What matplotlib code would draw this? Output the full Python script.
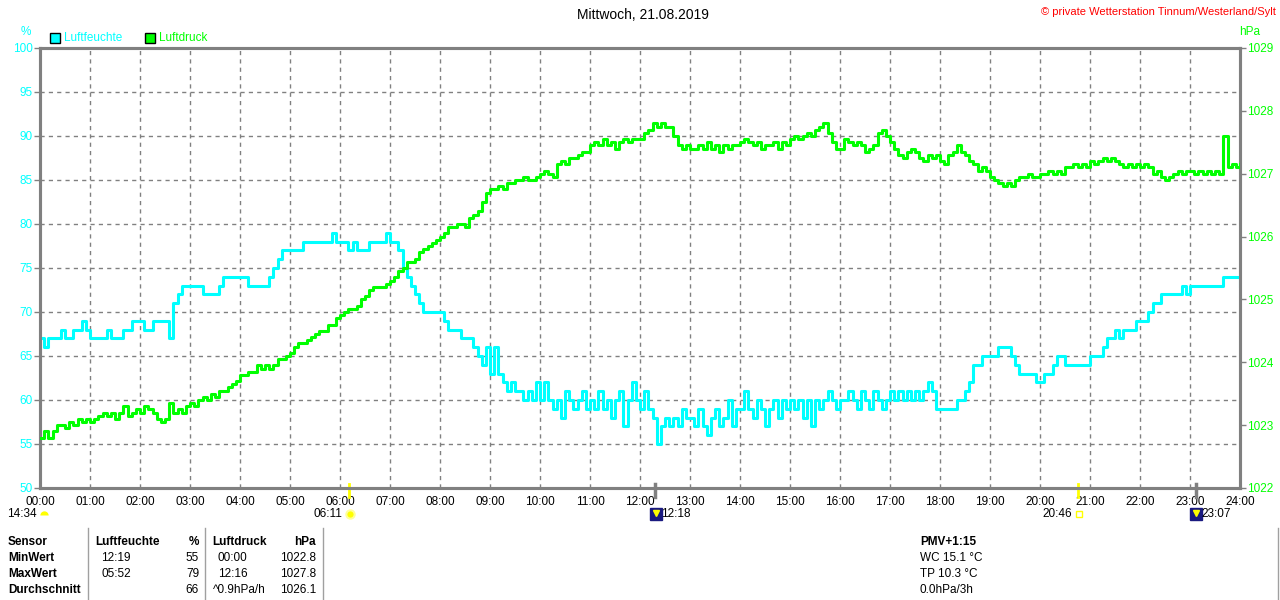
import numpy as np
import matplotlib
matplotlib.use('Agg')
import matplotlib.pyplot as plt
from matplotlib.lines import Line2D
from matplotlib.transforms import blended_transform_factory

plt.rcParams['font.family'] = ['Liberation Sans', 'DejaVu Sans']

# Zeitachse: alle 5 Minuten von 00:00 bis 24:00
minuten = np.arange(0, 24 * 60 + 1, 5)

# Luftfeuchte in %, je Zeile eine Stunde (12 Werte), am Ende 24:00
luftfeuchte = [
    67, 66, 67, 67, 67, 68, 67, 67, 68, 68, 69, 68,   # 00
    67, 67, 67, 67, 68, 67, 67, 67, 68, 68, 69, 69,   # 01
    69, 68, 68, 69, 69, 69, 69, 67, 71, 72, 73, 73,   # 02
    73, 73, 73, 72, 72, 72, 72, 73, 74, 74, 74, 74,   # 03
    74, 74, 73, 73, 73, 73, 73, 74, 75, 76, 77, 77,   # 04
    77, 77, 77, 78, 78, 78, 78, 78, 78, 78, 79, 78,   # 05
    78, 78, 77, 78, 77, 77, 77, 78, 78, 78, 78, 79,   # 06
    78, 78, 77, 75, 74, 73, 72, 71, 70, 70, 70, 70,   # 07
    70, 69, 68, 68, 68, 67, 67, 67, 66, 65, 64, 66,   # 08
    63, 66, 63, 62, 61, 62, 61, 61, 60, 61, 60, 62,   # 09
    60, 62, 60, 59, 60, 58, 61, 60, 59, 60, 61, 59,   # 10
    60, 59, 61, 59, 60, 58, 60, 61, 57, 60, 62, 60,   # 11
    59, 61, 59, 58, 55, 57, 58, 57, 58, 57, 59, 58,   # 12
    58, 57, 59, 57, 56, 58, 59, 57, 58, 60, 57, 59,   # 13
    59, 61, 59, 58, 60, 59, 57, 59, 60, 58, 60, 59,   # 14
    60, 59, 60, 58, 60, 57, 60, 59, 60, 61, 60, 59,   # 15
    60, 60, 61, 60, 59, 61, 60, 59, 61, 60, 59, 60,   # 16
    61, 60, 61, 60, 61, 60, 61, 60, 61, 62, 61, 59,   # 17
    59, 59, 59, 59, 60, 60, 61, 62, 64, 64, 65, 65,   # 18
    65, 65, 66, 66, 66, 65, 64, 63, 63, 63, 63, 62,   # 19
    62, 63, 63, 64, 65, 65, 64, 64, 64, 64, 64, 64,   # 20
    65, 65, 65, 66, 67, 67, 68, 67, 68, 68, 68, 69,   # 21
    69, 69, 70, 71, 71, 72, 72, 72, 72, 72, 73, 72,   # 22
    73, 73, 73, 73, 73, 73, 73, 73, 74, 74, 74, 74,   # 23
    73,
]

# Luftdruck in hPa
luftdruck = [
    1022.8, 1022.9, 1022.8, 1022.9, 1023.0, 1023.0, 1022.95, 1023.05, 1023.0, 1023.1, 1023.05, 1023.1,
    1023.05, 1023.1, 1023.15, 1023.2, 1023.15, 1023.2, 1023.1, 1023.2, 1023.3, 1023.15, 1023.2, 1023.25,
    1023.2, 1023.3, 1023.25, 1023.2, 1023.1, 1023.05, 1023.1, 1023.35, 1023.2, 1023.25, 1023.2, 1023.3,
    1023.35, 1023.3, 1023.4, 1023.45, 1023.4, 1023.5, 1023.45, 1023.55, 1023.55, 1023.6, 1023.65, 1023.7,
    1023.8, 1023.8, 1023.85, 1023.85, 1023.95, 1023.9, 1023.95, 1023.9, 1023.95, 1024.05, 1024.05, 1024.1,
    1024.15, 1024.25, 1024.3, 1024.3, 1024.35, 1024.4, 1024.45, 1024.5, 1024.5, 1024.6, 1024.6, 1024.7,
    1024.75, 1024.8, 1024.85, 1024.85, 1024.9, 1025.0, 1025.05, 1025.15, 1025.2, 1025.2, 1025.2, 1025.25,
    1025.3, 1025.35, 1025.45, 1025.5, 1025.6, 1025.6, 1025.65, 1025.75, 1025.8, 1025.85, 1025.9, 1025.95,
    1026.0, 1026.05, 1026.15, 1026.15, 1026.2, 1026.2, 1026.15, 1026.3, 1026.35, 1026.4, 1026.55, 1026.7,
    1026.75, 1026.75, 1026.8, 1026.75, 1026.85, 1026.85, 1026.9, 1026.9, 1026.95, 1026.9, 1026.9, 1026.95,
    1027.0, 1027.05, 1027.0, 1026.95, 1027.15, 1027.2, 1027.15, 1027.25, 1027.25, 1027.3, 1027.35, 1027.35,
    1027.45, 1027.5, 1027.45, 1027.55, 1027.45, 1027.5, 1027.4, 1027.5, 1027.55, 1027.5, 1027.55, 1027.55,
    1027.55, 1027.65, 1027.7, 1027.8, 1027.75, 1027.8, 1027.75, 1027.75, 1027.6, 1027.45, 1027.4, 1027.45,
    1027.4, 1027.4, 1027.45, 1027.4, 1027.5, 1027.4, 1027.45, 1027.35, 1027.45, 1027.4, 1027.45, 1027.45,
    1027.5, 1027.55, 1027.5, 1027.45, 1027.5, 1027.4, 1027.45, 1027.45, 1027.5, 1027.4, 1027.5, 1027.45,
    1027.55, 1027.6, 1027.55, 1027.6, 1027.65, 1027.6, 1027.7, 1027.75, 1027.8, 1027.65, 1027.5, 1027.4,
    1027.4, 1027.55, 1027.5, 1027.45, 1027.5, 1027.45, 1027.35, 1027.4, 1027.45, 1027.65, 1027.7, 1027.6,
    1027.5, 1027.4, 1027.3, 1027.25, 1027.35, 1027.4, 1027.35, 1027.25, 1027.2, 1027.3, 1027.25, 1027.3,
    1027.2, 1027.15, 1027.3, 1027.35, 1027.45, 1027.35, 1027.3, 1027.2, 1027.15, 1027.05, 1027.1, 1027.05,
    1026.95, 1026.9, 1026.85, 1026.8, 1026.85, 1026.8, 1026.9, 1026.95, 1026.95, 1027.0, 1026.95, 1026.95,
    1027.0, 1027.0, 1027.05, 1027.0, 1027.05, 1027.0, 1027.1, 1027.1, 1027.15, 1027.1, 1027.15, 1027.1,
    1027.2, 1027.15, 1027.2, 1027.25, 1027.2, 1027.25, 1027.2, 1027.15, 1027.1, 1027.15, 1027.1, 1027.15,
    1027.1, 1027.15, 1027.1, 1027.0, 1027.05, 1026.95, 1026.9, 1026.95, 1027.0, 1027.05, 1027.0, 1027.05,
    1027.05, 1027.0, 1027.05, 1027.0, 1027.05, 1027.0, 1027.05, 1027.0, 1027.6, 1027.1, 1027.15, 1027.1,
    1027.15,
]

x_labels = ['%02d:00' % h for h in range(25)]
hum_ticks = list(range(50, 101, 5))
druck_ticks = list(range(1022, 1030))

# Sonne / Mond Zeiten (Minuten)
sonne_auf, sonne_unter = 6 * 60 + 11, 20 * 60 + 46
mond_auf, mond_unter = 23 * 60 + 7, 12 * 60 + 18

tab_rows = ['Sensor', 'MinWert', 'MaxWert', 'Durchschnitt']
tab_feuchte = [('Luftfeuchte', '%'), ('12:19', '55'), ('05:52', '79'), ('', '66')]
tab_druck = [('Luftdruck', 'hPa'), ('00:00', '1022.8'), ('12:16', '1027.8'), ('^0.9hPa/h', '1026.1')]
pmv_text = ['PMV+1:15', 'WC 15.1 \u00b0C', 'TP 10.3 \u00b0C', '0.0hPa/3h']

CYAN = '#00FFFF'
GREEN = '#00FF00'
GRAU = '#808080'
W, H = 1280, 600


def fx(x):
    return x / W


def fy(y):
    return 1 - y / H


fig = plt.figure(figsize=(12.8, 6), dpi=100)
ax = fig.add_axes([fx(40), fy(488), 1200 / W, 440 / H])
ax2 = ax.twinx()

ax.set_xlim(0, 24 * 60)
ax.set_ylim(50, 100)
ax2.set_ylim(1022, 1029)

ax.set_xticks(range(0, 24 * 60 + 1, 60))
ax.set_xticklabels(x_labels, fontsize=8.5)
ax.set_yticks(hum_ticks)
ax.set_yticklabels([str(v) for v in hum_ticks], fontsize=8.5, color=CYAN)
ax2.set_yticks(druck_ticks)
ax2.set_yticklabels([str(v) for v in druck_ticks], fontsize=8.5, color=GREEN)

ax.tick_params(axis='x', length=0, pad=6)
ax.tick_params(axis='y', length=4, width=1, color=GRAU, pad=1)
ax2.tick_params(axis='y', length=4, width=1, color=GRAU, pad=1)

ax.grid(True, color=GRAU, linestyle=(0, (3, 3)), linewidth=1)
for a in (ax, ax2):
    for s in a.spines.values():
        s.set_color(GRAU)
        s.set_linewidth(2.2)

ax.plot(minuten, luftfeuchte, color=CYAN, lw=2.2, drawstyle='steps-post', zorder=3)
ax2.plot(minuten, luftdruck, color=GREEN, lw=2.2, drawstyle='steps-post', zorder=3)

# Markierungen Sonne/Mond an der Zeitachse
tr = blended_transform_factory(ax.transData, ax.transAxes)
for t in (sonne_auf, sonne_unter):
    ax.plot([t, t], [-0.02, 0.01], color='#FFFF00', lw=2, transform=tr, clip_on=False, zorder=5)
for t in (mond_unter, mond_auf):
    ax.plot([t, t], [-0.02, 0.01], color=GRAU, lw=2.5, transform=tr, clip_on=False, zorder=5)

# Titel und Kopfzeile
fig.text(fx(643), fy(15), 'Mittwoch, 21.08.2019', ha='center', va='center', fontsize=10)
fig.text(fx(1276), fy(12), '\u00a9 private Wetterstation Tinnum/Westerland/Sylt',
         ha='right', va='center', fontsize=8, color='#FF0000')
fig.text(fx(26), fy(32), '%', ha='center', va='center', fontsize=8.5, color=CYAN)
fig.text(fx(1250), fy(32), 'hPa', ha='center', va='center', fontsize=8.5, color=GREEN)

# Legende
for x0, farbe, name in ((55, CYAN, 'Luftfeuchte'), (150, GREEN, 'Luftdruck')):
    fig.add_artist(Line2D([fx(x0)], [fy(38)], marker='s', markersize=7, markerfacecolor=farbe,
                          markeredgecolor='black', markeredgewidth=1, transform=fig.transFigure))
    fig.text(fx(x0 + 9), fy(38), name, ha='left', va='center', fontsize=8.5, color=farbe)

# Sonne/Mond Beschriftungen
fig.text(fx(37), fy(514), '14:34', ha='right', va='center', fontsize=8.5)
fig.add_artist(Line2D([fx(44)], [fy(515)], marker='o', markersize=6, color='#FFFF00',
                      fillstyle='top', markeredgewidth=0, transform=fig.transFigure))
fig.text(fx(342), fy(514), '06:11', ha='right', va='center', fontsize=8.5)
fig.add_artist(Line2D([fx(350)], [fy(514)], marker='o', markersize=6, color='#FFFF00',
                      markeredgecolor='#FFFF99', markeredgewidth=1.5, transform=fig.transFigure))
fig.text(fx(1072), fy(514), '20:46', ha='right', va='center', fontsize=8.5)
fig.add_artist(Line2D([fx(1079)], [fy(514)], marker='s', markersize=5, markerfacecolor='none',
                      markeredgecolor='#FFFF00', markeredgewidth=1, transform=fig.transFigure))
for xm, txt in ((656, '12:18'), (1196, '23:07')):
    fig.add_artist(Line2D([fx(xm)], [fy(514)], marker='s', markersize=8, color='#1A1A80',
                          transform=fig.transFigure))
    fig.add_artist(Line2D([fx(xm)], [fy(513)], marker='v', markersize=4, color='#FFFF00',
                          transform=fig.transFigure))
    fig.text(fx(xm + 5), fy(514), txt, ha='left', va='center', fontsize=8.5)

# Tabelle unten
zeilen_y = [542, 558, 574, 590]
for i, y in enumerate(zeilen_y):
    fw = 'bold'
    fig.text(fx(8), fy(y), tab_rows[i], ha='left', va='center', fontsize=8.5, fontweight='bold')
    w = 'bold' if i == 0 else 'normal'
    links, rechts = tab_feuchte[i]
    fig.text(fx(95 if i == 0 else 101), fy(y), links, ha='left', va='center', fontsize=8.5, fontweight=w)
    fig.text(fx(199), fy(y), rechts, ha='right', va='center', fontsize=8.5, fontweight=w)
    links, rechts = tab_druck[i]
    fig.text(fx(212 if i == 0 else 213 if i == 3 else 218), fy(y), links, ha='left', va='center',
             fontsize=8.5, fontweight=w)
    fig.text(fx(316), fy(y), rechts, ha='right', va='center', fontsize=8.5, fontweight=w)
    fig.text(fx(920), fy(y), pmv_text[i], ha='left', va='center', fontsize=8.5, fontweight=w)

for xl in (88, 205, 323, 1278):
    fig.add_artist(Line2D([fx(xl), fx(xl)], [fy(528), fy(600)], color='#A0A0A0', lw=1,
                          transform=fig.transFigure))

fig.savefig('out.png', dpi=100, facecolor='white')
